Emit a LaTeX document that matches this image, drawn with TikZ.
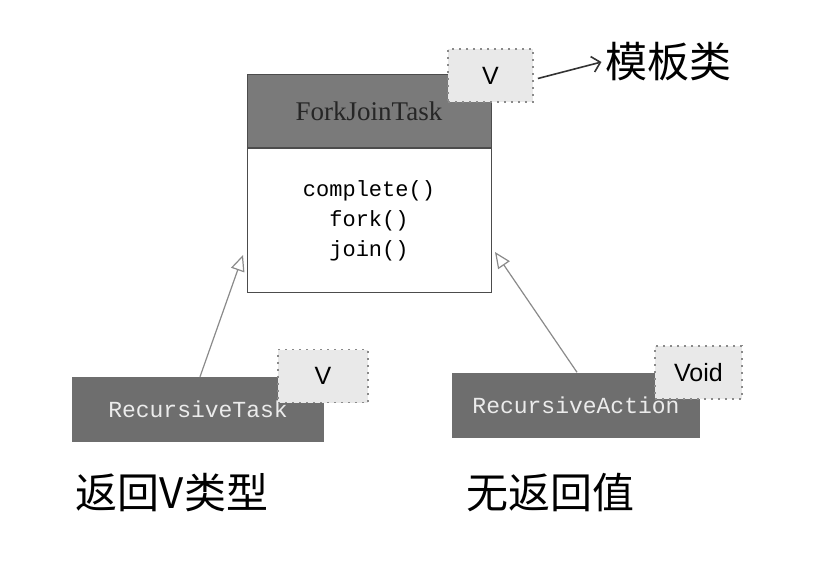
\documentclass[tikz,border=0pt]{standalone}
\usepackage{fontspec}
\setmainfont{Liberation Serif}
\setsansfont{Liberation Sans}
\setmonofont{Liberation Mono}
\newfontfamily\cjk{Noto Sans CJK SC}
\definecolor{hdgray}{HTML}{7A7A7A}
\definecolor{subgray}{HTML}{6E6E6E}
\definecolor{taggray}{HTML}{E9E9E9}
\definecolor{linegray}{HTML}{8A8A8A}
\usetikzlibrary{arrows.meta, positioning}

\begin{document}
\begin{tikzpicture}[
        x=1pt, y=-1pt,
        header/.style={rectangle, draw=black!70, fill=hdgray, line width=1pt,
                       minimum width=244pt, minimum height=73pt,
                       font=\fontsize{27}{30}\selectfont, text=black!85},
        body/.style={rectangle, draw=black!70, fill=white, line width=1pt,
                     minimum width=244pt, minimum height=143pt, align=center,
                     font=\ttfamily\fontsize{22}{30}\selectfont},
        sub/.style={rectangle, fill=subgray, minimum height=65pt,
                    font=\ttfamily\fontsize{23}{26}\selectfont, text=white!92!black},
        tag/.style={rectangle, draw=linegray, dash pattern=on 2pt off 5pt,
                    line width=1.8pt, fill=taggray, minimum height=53pt,
                    font=\sffamily\fontsize{25}{28}\selectfont},
        note/.style={font=\cjk\fontsize{42}{44}\selectfont},
        inh/.style={-{Triangle[open, length=16pt, width=14pt]}, draw=linegray,
                    line width=1.2pt}
      ]
      \useasboundingbox (0,0) rectangle (832,564);

      % base class
      \node[header] (fjt) at (369,111.5) {ForkJoinTask};
      \node[body, below=0pt of fjt] (fjtbody)
        {complete()\\fork()\\join()};
      \node[tag, minimum width=85pt] (tv) at (490.5,75.5) {V};

      % sub classes
      \node[sub, minimum width=252pt] (rtask) at (198,409.5) {RecursiveTask};
      \node[sub, minimum width=248pt] (ract) at (576,405) {RecursiveAction};
      \node[tag, minimum width=90pt] (rtv) at (323,376) {V};
      \node[tag, minimum width=87pt] (rav) at (698.5,372.5) {Void};

      % inheritance
      \coordinate (lhead) at (243,255);
      \coordinate (rhead) at (495,252);
      \draw[inh] (rtask.north) ++(2,0) -- (lhead);
      \draw[inh] (ract.north) ++(1,0) -- (rhead);

      % notes
      \node[note] (tmpl) at (668,62) {模板类};
      \draw[-{Straight Barb[length=8pt]}, line width=1.6pt, black!80]
        (tv.east) ++(4,3) -- (tmpl.west);
      \node[note] (rtnote) at (172,493) {返回V类型};
      \node[note] (ranote) at (550,493) {无返回值};
    \end{tikzpicture}
\end{document}
